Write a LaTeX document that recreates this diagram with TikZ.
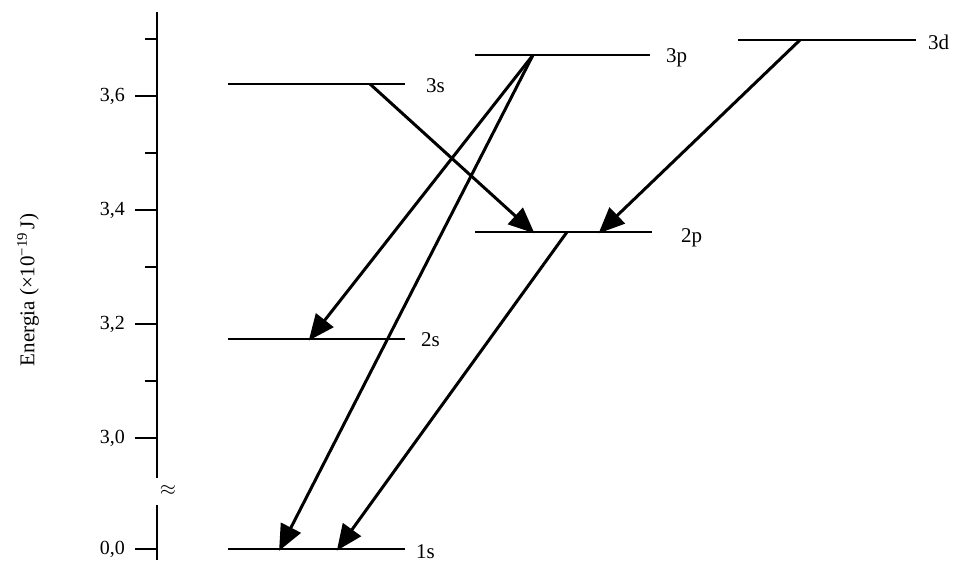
\documentclass[tikz,border=0pt]{standalone}
\usepackage{fontspec}
\setmainfont{Liberation Serif}
\usetikzlibrary{arrows.meta}
\begin{document}
\begin{tikzpicture}[x=1pt,y=-1pt,
  lvl/.style={line width=1.8pt},
  trans/.style={line width=3pt,-{Triangle[length=26pt,width=22pt]},shorten >=-2pt},
  lab/.style={font=\fontsize{21}{21}\selectfont,anchor=west,inner sep=0pt},
  tlab/.style={font=\fontsize{20}{20}\selectfont,anchor=east,inner sep=0pt}]
\useasboundingbox (0,0) rectangle (973,570);
% axis
\draw[line width=2.2pt] (157,12) -- (157,478);
\draw[line width=2.2pt] (157,505) -- (157,560);
\node[font=\fontsize{20}{20}\selectfont] at (168,490) {$\approx$};
\foreach \y/\t in {96/{3,6},210/{3,4},324/{3,2},438/{3,0},549/{0,0}}{
  \draw[line width=2.2pt] (135,\y) -- (157,\y);
  \node[tlab] at (125,\y) {\t};}
\foreach \y in {39,153,267,381}{\draw[line width=2.2pt] (145,\y) -- (157,\y);}
\node[rotate=90,font=\fontsize{21}{21}\selectfont] at (28,290) {Energia (×10\textsuperscript{−19}\,J)};
% levels
\coordinate (s3a) at (228,84); \coordinate (s3b) at (405,84);
\coordinate (s2a) at (228,339); \coordinate (s2b) at (405,339);
\coordinate (s1a) at (228,549); \coordinate (s1b) at (405,549);
\coordinate (p3a) at (475,55); \coordinate (p3b) at (650,55);
\coordinate (p2a) at (475,232); \coordinate (p2b) at (652,232);
\coordinate (d3a) at (738,40); \coordinate (d3b) at (916,40);
\draw[lvl] (s3a) -- (s3b); \draw[lvl] (s2a) -- (s2b); \draw[lvl] (s1a) -- (s1b);
\draw[lvl] (p3a) -- (p3b); \draw[lvl] (p2a) -- (p2b); \draw[lvl] (d3a) -- (d3b);
\node[lab] (l3s) at (426,86) {3s};
\node[lab] (l2s) at (421,340) {2s};
\node[lab] (l1s) at (416,552) {1s};
\node[lab] (l3p) at (666,58) {3p};
\node[lab] (l2p) at (681,238) {2p};
\node[lab] (l3d) at (928,42) {3d};
% transitions
\coordinate (a1) at (370,84); \coordinate (b1) at (533,232);
\coordinate (a2) at (533,55); \coordinate (b2) at (310,339);
\coordinate (b3) at (280,549);
\coordinate (a4) at (800,40); \coordinate (b4) at (600,232);
\coordinate (a5) at (567,232); \coordinate (b5) at (338,549);
\draw[trans] (a1) -- (b1);
\draw[trans] (a2) -- (b2);
\draw[trans] (a2) -- (b3);
\draw[trans] (a4) -- (b4);
\draw[trans] (a5) -- (b5);
\end{tikzpicture}
\end{document}
